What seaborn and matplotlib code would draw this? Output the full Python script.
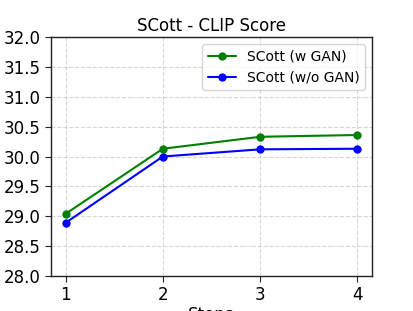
import numpy as np
import pandas as pd
import seaborn as sns
import matplotlib
matplotlib.use("Agg")
import matplotlib.pyplot as plt

steps = [1, 2, 3, 4]
with_gan = [29.04, 30.13, 30.33, 30.36]
without_gan = [28.89, 30.0, 30.12, 30.13]

sns.set_style("ticks")
plt.rcParams.update({'text.color': 'black', 'axes.labelcolor': 'black',
                     'xtick.color': 'black', 'ytick.color': 'black'})

df = pd.DataFrame({
    'Steps': steps * 2,
    'CLIP Score': with_gan + without_gan,
    'model': ['SCott (w GAN)'] * 4 + ['SCott (w/o GAN)'] * 4,
})

fig = plt.figure(figsize=(4.14, 3.11), dpi=100)
ax = fig.add_axes([51/414, 35/311, 321/414, 239/311])

sns.lineplot(data=df, x='Steps', y='CLIP Score', hue='model',
             palette=['green', 'blue'], marker='o', markersize=6,
             markeredgewidth=0, linewidth=1.5, ax=ax)

ax.set_ylim(28.0, 32.0)
ax.set_yticks(np.arange(28.0, 32.01, 0.5))
ax.set_xticks(steps)
ax.grid(True, linestyle='--', color='#cccccc', linewidth=0.8, alpha=0.8)
for s in ax.spines.values():
    s.set_color('#222222')
    s.set_linewidth(1.0)
ax.tick_params(labelsize=12, length=4, color='#222222')
ax.set_title('SCott - CLIP Score', fontsize=12, pad=4)
ax.set_xlabel('Steps', fontsize=12, labelpad=1)
ax.set_ylabel('CLIP Score', fontsize=12, labelpad=3)
ax.legend(title=None, fontsize=10, loc='upper right')

fig.savefig('out.png', dpi=100)
